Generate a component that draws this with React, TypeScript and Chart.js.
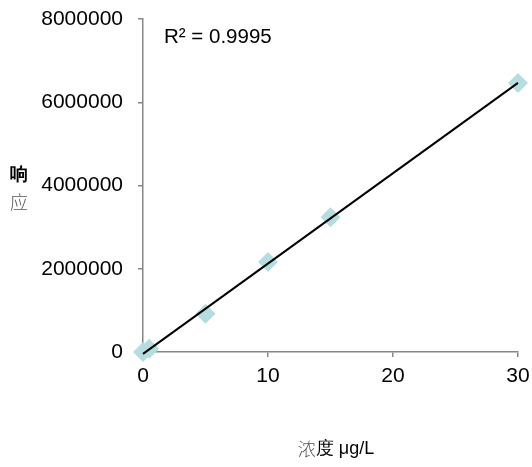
import React, { useEffect, useRef } from "react";
import { Chart, registerables } from "chart.js";

Chart.register(...registerables);

const concentrations = [0, 0.5, 5, 10, 15, 30];
const responses = [0, 80000, 920000, 2160000, 3240000, 6460000];
const yTicks = [0, 2000000, 4000000, 6000000, 8000000];
const xTicks = [0, 10, 20, 30];
const rSquaredLabel = "R² = 0.9995";
const xTitleParts = ["浓", "度 μg/L"];
const yTitleChars = ["响", "应"];

function linearFit(xs: number[], ys: number[]) {
  const n = xs.length;
  const mx = xs.reduce((a, b) => a + b, 0) / n;
  const my = ys.reduce((a, b) => a + b, 0) / n;
  let sxy = 0, sxx = 0;
  for (let i = 0; i < n; i++) {
    sxy += (xs[i] - mx) * (ys[i] - my);
    sxx += (xs[i] - mx) ** 2;
  }
  const slope = sxy / sxx;
  return { slope, intercept: my - slope * mx };
}

const FONT = "'Liberation Sans', Arial, sans-serif";
const LIGHT_CJK = "'Noto Sans CJK SC', serif";

export default function App() {
  const ref = useRef<HTMLCanvasElement | null>(null);
  useEffect(() => {
    document.body.style.margin = "0";
    const fit = linearFit(concentrations, responses);
    const xMin = Math.min(...concentrations);
    const xMax = Math.max(...concentrations);
    const trend = [
      { x: xMin, y: fit.intercept + fit.slope * xMin },
      { x: xMax, y: fit.intercept + fit.slope * xMax },
    ];
    const textPlugin = {
      id: "texts",
      afterDraw(chart: any) {
        const ctx = chart.ctx;
        ctx.save();
        ctx.fillStyle = "#000";
        ctx.textAlign = "left";
        ctx.textBaseline = "middle";
        ctx.font = `20.5px ${FONT}`;
        ctx.fillText(rSquaredLabel, 164, 37);
        // x title
        ctx.font = `300 18px ${LIGHT_CJK}`;
        const w1 = ctx.measureText(xTitleParts[0]).width;
        ctx.font = `18px ${FONT}`;
        const w2 = ctx.measureText(xTitleParts[1]).width;
        const startX = 336 - (w1 + w2) / 2;
        ctx.font = `300 18px ${LIGHT_CJK}`;
        ctx.fillStyle = "#555";
        ctx.fillText(xTitleParts[0], startX, 449);
        ctx.font = `18px ${FONT}`;
        ctx.fillStyle = "#000";
        ctx.fillText(xTitleParts[1], startX + w1, 449);
        // y title
        ctx.textAlign = "center";
        ctx.font = `bold 18px ${FONT}`;
        ctx.fillText(yTitleChars[0], 19, 175);
        ctx.font = `300 18px ${LIGHT_CJK}`;
        ctx.fillStyle = "#555";
        ctx.fillText(yTitleChars[1], 19, 202);
        ctx.restore();
      },
    };
    const chart = new Chart(ref.current!, {
      type: "scatter",
      data: {
        datasets: [
          {
            data: trend,
            showLine: true,
            borderColor: "#000",
            borderWidth: 2,
            pointRadius: 0,
            order: 1,
            clip: false,
          },
          {
            data: concentrations.map((x, i) => ({ x, y: responses[i] })),
            pointStyle: "rectRot",
            pointRadius: 10,
            backgroundColor: "#B5DDE0",
            borderColor: "#B5DDE0",
            borderWidth: 0,
            order: 2,
            clip: false,
          },
        ],
      },
      options: {
        responsive: false,
        animation: false,
        layout: { padding: { top: 19, right: 14, left: 0, bottom: 0 } },
        plugins: { legend: { display: false }, tooltip: { enabled: false } },
        scales: {
          x: {
            type: "linear",
            min: 0,
            max: 30,
            afterBuildTicks: (s: any) => { s.ticks = xTicks.map((v) => ({ value: v })); },
            afterFit: (s: any) => { s.height = 115; s.paddingLeft = 0; s.paddingRight = 0; },
            border: { color: "#868686", width: 1.5 },
            grid: { display: true, drawOnChartArea: false, color: "#868686", tickLength: 5, lineWidth: 1.5 },
            ticks: { color: "#000", font: { family: FONT, size: 21 }, padding: 7, maxRotation: 0 },
          },
          y: {
            type: "linear",
            min: 0,
            max: 8000000,
            afterBuildTicks: (s: any) => { s.ticks = yTicks.map((v) => ({ value: v })); },
            afterFit: (s: any) => { s.width = 143; s.paddingTop = 0; s.paddingBottom = 0; },
            border: { color: "#868686", width: 1.5 },
            grid: { display: true, drawOnChartArea: false, color: "#868686", tickLength: 5, lineWidth: 1.5 },
            ticks: { color: "#000", font: { family: FONT, size: 21 }, padding: 15, callback: (v: any) => String(v) },
          },
        },
      },
      plugins: [textPlugin],
    } as any);
    return () => chart.destroy();
  }, []);
  return <canvas ref={ref} width={532} height={467} style={{ display: "block" }} />;
}
